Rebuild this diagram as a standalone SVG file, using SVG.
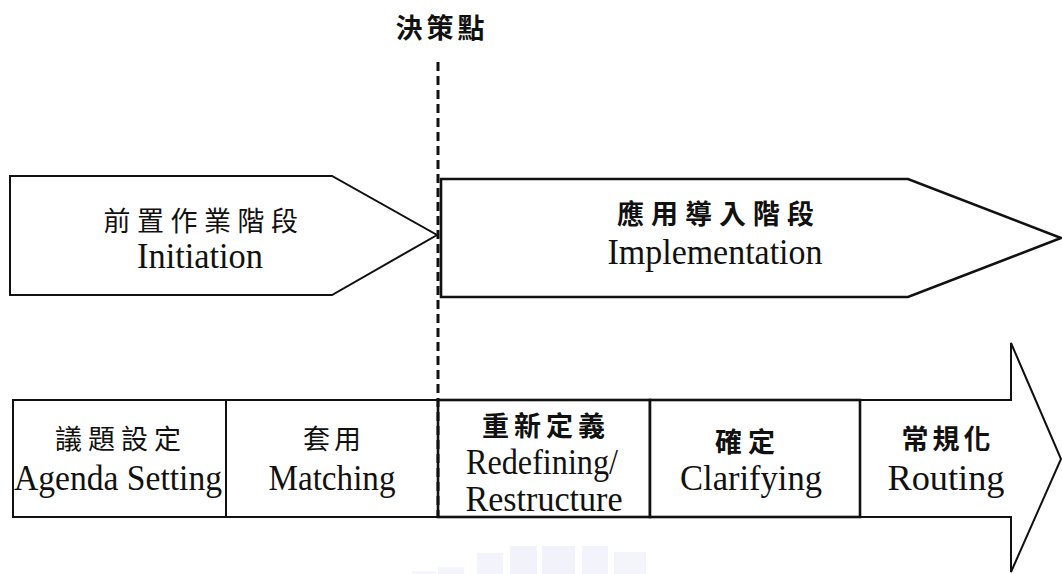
<svg xmlns="http://www.w3.org/2000/svg" width="1062" height="574" viewBox="0 0 1062 574">
  <style>
    .shape { fill: #ffffff; stroke: #111111; stroke-width: 2; stroke-linejoin: miter; }
    .thick { stroke-width: 2.6; }
    .en { font-family: "Liberation Serif", "Times New Roman", serif; font-size: 36px; fill: #111111; text-anchor: middle; }
    .zh { font-family: "Noto Sans CJK TC", "Noto Sans CJK SC", sans-serif; font-size: 27px; fill: #111111; text-anchor: middle; font-weight: 400; }
    .zhb { font-weight: 700; }
    .mark { fill: #d4d7f2; }
  </style>

  <rect x="0" y="0" width="1062" height="574" fill="#ffffff"/>

  <!-- faint watermark blocks under the timeline -->
  <g id="watermark" opacity="0.4">
    <rect class="mark" x="412" y="571" width="24" height="3" opacity="0.5"/>
    <rect class="mark" x="438" y="567" width="26" height="7" opacity="0.6"/>
    <rect class="mark" x="477" y="553" width="26" height="21" opacity="0.7"/>
    <rect class="mark" x="510" y="546" width="27" height="28" opacity="0.8"/>
    <rect class="mark" x="542" y="546" width="33" height="28" opacity="0.8"/>
    <rect class="mark" x="582" y="546" width="26" height="28" opacity="0.7"/>
    <rect class="mark" x="614" y="552" width="32" height="22" opacity="0.6"/>
  </g>

  <!-- phase arrows -->
  <g id="phase-initiation">
    <polygon class="shape" points="10,176 332,176 437,235 332,295 10,295"/>
    <text class="zh" x="204" y="231" letter-spacing="6.5">前置作業階段</text>
    <text class="en" x="200" y="268" textLength="126" lengthAdjust="spacingAndGlyphs">Initiation</text>
  </g>

  <g id="phase-implementation">
    <polygon class="shape thick" points="441,179 908,179 1061,238 908,297 441,297"/>
    <text class="zh zhb" x="719" y="224" font-size="28" letter-spacing="7">應用導入階段</text>
    <text class="en" x="715" y="264" textLength="215" lengthAdjust="spacingAndGlyphs">Implementation</text>
  </g>

  <!-- stage timeline -->
  <g id="timeline-arrow">
    <polygon class="shape" points="13,400 1011,400 1011,343 1061,459 1011,572 1011,517 13,517"/>
  </g>

  <g id="stage-agenda">
    <rect class="shape" x="13" y="400" width="213" height="117"/>
    <text class="zh" x="121" y="449" letter-spacing="6">議題設定</text>
    <text class="en" x="118" y="490" textLength="208" lengthAdjust="spacingAndGlyphs">Agenda Setting</text>
  </g>

  <g id="stage-matching">
    <rect class="shape" x="226" y="400" width="212" height="117"/>
    <text class="zh" x="334" y="449" letter-spacing="4">套用</text>
    <text class="en" x="332" y="490" textLength="127" lengthAdjust="spacingAndGlyphs">Matching</text>
  </g>

  <g id="stage-redefining">
    <rect class="shape thick" x="438" y="400" width="212" height="117"/>
    <text class="zh zhb" x="546" y="436" letter-spacing="5">重新定義</text>
    <text class="en" x="542" y="474" textLength="152" lengthAdjust="spacingAndGlyphs">Redefining/</text>
    <text class="en" x="544" y="511" textLength="157" lengthAdjust="spacingAndGlyphs">Restructure</text>
  </g>

  <g id="stage-clarifying">
    <rect class="shape thick" x="650" y="400" width="210" height="117"/>
    <text class="zh zhb" x="748" y="452" letter-spacing="6">確定</text>
    <text class="en" x="751" y="490" textLength="142" lengthAdjust="spacingAndGlyphs">Clarifying</text>
  </g>

  <g id="stage-routing">
    <text class="zh zhb" x="948" y="449" letter-spacing="4">常規化</text>
    <text class="en" x="946" y="490" textLength="117" lengthAdjust="spacingAndGlyphs">Routing</text>
  </g>

  <!-- decision point marker -->
  <g id="decision-point">
    <text class="zh zhb" x="442" y="38" font-size="28" letter-spacing="4">決策點</text>
  </g>

  <g id="connectors">
    <line x1="438" y1="62" x2="438" y2="518" stroke="#111111" stroke-width="3" stroke-dasharray="9 5"/>
  </g>
</svg>
